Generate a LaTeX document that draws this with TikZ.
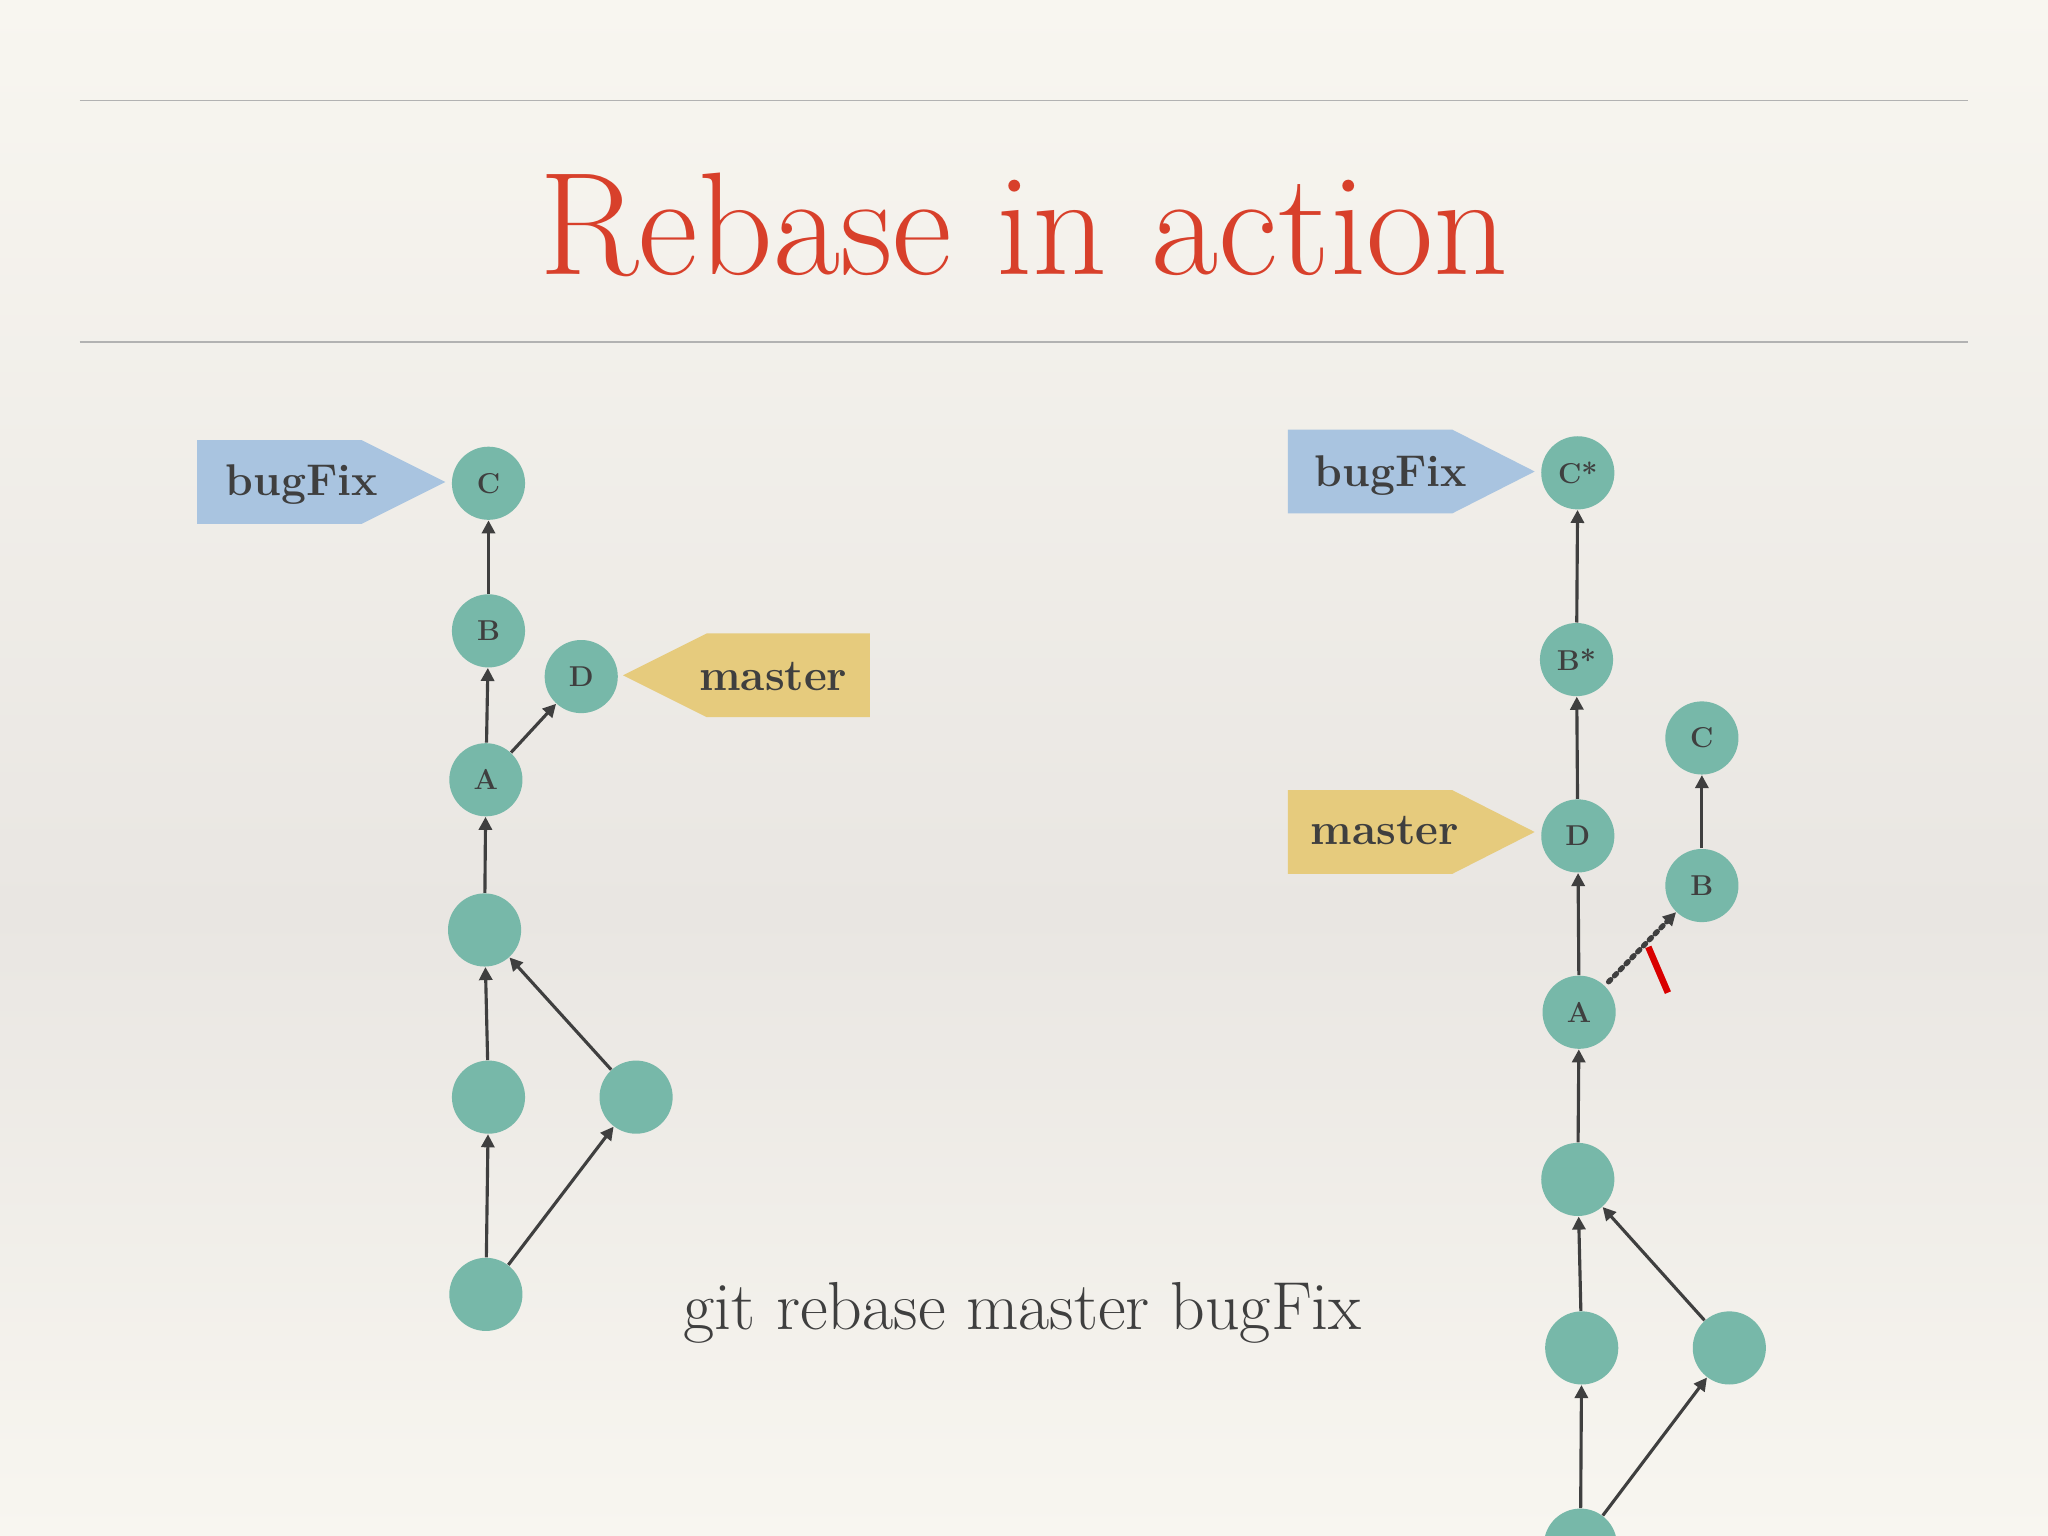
\documentclass[tikz,border=0pt]{standalone}
\usepackage{fontspec}
\usetikzlibrary{arrows.meta,shapes.geometric}
\definecolor{cteal}{HTML}{77B8A9}
\definecolor{tagblue}{HTML}{A9C4E0}
\definecolor{tagyel}{HTML}{E6CB7D}
\definecolor{titred}{HTML}{D8402B}
\definecolor{ink}{HTML}{3F3F3F}
\definecolor{bglight}{HTML}{F8F6F0}
\definecolor{bgmid}{HTML}{E9E6E2}
\tikzset{
 commitnode/.style={circle,fill=cteal,minimum size=28pt,inner sep=0pt,font=\bfseries\fontsize{11}{11}\selectfont,text=ink},
 ed/.style={-{Triangle[length=5pt,width=5pt]},draw=ink,line width=1.2pt},
 tagtext/.style={font=\bfseries\fontsize{17}{17}\selectfont,text=ink}
}
\begin{document}
\begin{tikzpicture}[x=0.5pt,y=-0.5pt]
\useasboundingbox (0,0) rectangle (1568,1176);
\clip (0,0) rectangle (1568,1176);
\shade[top color=bglight,bottom color=bgmid] (0,0) rectangle (1568,700);
\shade[top color=bgmid,bottom color=bglight] (0,699) rectangle (1568,1176);
\draw[gray!60,line width=0.6pt] (61,77) -- (1507,77) (61,262) -- (1507,262);
\node[text=titred,font=\fontsize{56}{56}\selectfont] (title) at (784,172) {Rebase in action};
\node[text=ink,font=\fontsize{26}{26}\selectfont] (cmd) at (783,1005) {git rebase master bugFix};
% left
\node[commitnode] (C) at (374,370) {C};
\node[commitnode] (B) at (374,483) {B};
\node[commitnode] (D) at (445,518) {D};
\node[commitnode] (A) at (372,597) {A};
\node[commitnode] (n1) at (371,712) {};
\node[commitnode] (n2) at (374,840) {};
\node[commitnode] (n3) at (487,840) {};
\node[commitnode] (n4) at (372,991) {};
\draw[ed] (B)--(C); \draw[ed] (A)--(B); \draw[ed] (A)--(D); \draw[ed] (n1)--(A);
\draw[ed] (n2)--(n1); \draw[ed] (n3)--(n1); \draw[ed] (n4)--(n2); \draw[ed] (n4)--(n3);
\fill[tagblue] (151,337) -- (277,337) -- (341,369) -- (277,401) -- (151,401) -- cycle;
\node[tagtext] (bf1) at (231,371) {bugFix};
\fill[tagyel] (666,485) -- (541,485) -- (477,517) -- (541,549) -- (666,549) -- cycle;
\node[tagtext] (ms1) at (592,518) {master};
% right
\node[commitnode] (Cs) at (1208,362) {C*};
\node[commitnode] (Bs) at (1207,505) {B*};
\node[commitnode] (D2) at (1208,640) {D};
\node[commitnode] (A2) at (1209,775) {A};
\node[commitnode] (C2) at (1303,565) {C};
\node[commitnode] (B2) at (1303,678) {B};
\node[commitnode] (m1) at (1208,903) {};
\node[commitnode] (m2) at (1211,1032) {};
\node[commitnode] (m3) at (1324,1032) {};
\node[commitnode] (m4) at (1210,1183) {};
\draw[ed] (Bs)--(Cs); \draw[ed] (D2)--(Bs); \draw[ed] (A2)--(D2); \draw[ed] (m1)--(A2);
\draw[ed] (m2)--(m1); \draw[ed] (m3)--(m1); \draw[ed] (m4)--(m2); \draw[ed] (m4)--(m3);
\draw[ed] (B2)--(C2);
\draw[ed,dotted,line width=2pt,line cap=round,shorten <=2pt] (A2)--(B2);
\draw[red!85!black,line width=2.5pt] (1262,725) -- (1277,760);
\fill[tagblue] (986,329) -- (1112,329) -- (1175,361) -- (1112,393) -- (986,393) -- cycle;
\node[tagtext] (bf2) at (1065,364) {bugFix};
\fill[tagyel] (986,605) -- (1112,605) -- (1175,637) -- (1112,669) -- (986,669) -- cycle;
\node[tagtext] (ms2) at (1060,636) {master};
\end{tikzpicture}
\end{document}
